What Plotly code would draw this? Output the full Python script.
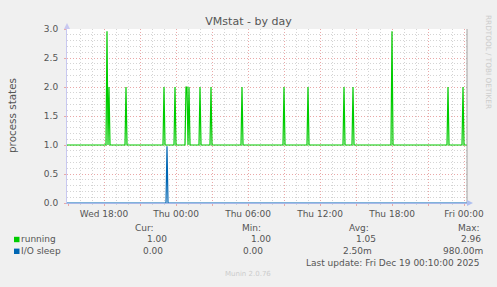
import plotly.graph_objects as go
from datetime import datetime, timedelta

# ---------------- data ----------------
x_start = "2025-12-17 14:55"
x_end = "2025-12-19 00:15"
step_minutes = 5

running_base = 1.0
running_spike_times = ["2025-12-17 18:15", "2025-12-17 18:25", "2025-12-17 19:50",
                       "2025-12-17 23:00", "2025-12-17 23:55", "2025-12-18 00:50",
                       "2025-12-18 00:55", "2025-12-18 01:05", "2025-12-18 02:00",
                       "2025-12-18 02:55", "2025-12-18 05:30", "2025-12-18 09:00",
                       "2025-12-18 11:00", "2025-12-18 14:00", "2025-12-18 14:45",
                       "2025-12-18 18:00", "2025-12-18 22:40", "2025-12-18 23:55"]
running_spike_values = [2.96, 2.0, 2.0, 2.0, 2.0, 2.0, 2.0, 2.0, 2.0, 2.0, 2.0, 2.0,
                        2.0, 2.0, 2.0, 2.96, 2.0, 2.0]

iosleep_base = 0.0
iosleep_spike_times = ["2025-12-17 23:15"]
iosleep_spike_values = [0.98]

tick_times = ["2025-12-17 15:00", "2025-12-17 18:00", "2025-12-17 21:00",
              "2025-12-18 00:00", "2025-12-18 03:00", "2025-12-18 06:00",
              "2025-12-18 09:00", "2025-12-18 12:00", "2025-12-18 15:00",
              "2025-12-18 18:00", "2025-12-18 21:00", "2025-12-19 00:00"]
tick_labels = ["", "Wed 18:00", "", "Thu 00:00", "", "Thu 06:00", "", "Thu 12:00",
               "", "Thu 18:00", "", "Fri 00:00"]

legend_names = ["running", "I/O sleep"]
legend_colors = ["#00CC00", "#0066B3"]
col_headers = ["Cur:", "Min:", "Avg:", "Max:"]
running_stats = ["1.00", "1.00", "1.05", "2.96"]
iosleep_stats = ["0.00", "0.00", "2.50m", "980.00m"]
last_update = "Last update: Fri Dec 19 00:10:00 2025"


def fmt(t):
    return t.strftime("%Y-%m-%d %H:%M")


def build_series(base, times, values):
    pts = {}
    parsed = [datetime.strptime(t, "%Y-%m-%d %H:%M") for t in times]
    for t, v in zip(parsed, values):
        pts[t] = v
    st = timedelta(minutes=step_minutes)
    for t in parsed:
        for n in (t - st, t + st):
            if n not in pts:
                pts[n] = base
    t0 = datetime.strptime(x_start, "%Y-%m-%d %H:%M")
    t1 = datetime.strptime(x_end, "%Y-%m-%d %H:%M")
    pts.setdefault(t0, base)
    pts.setdefault(t1, base)
    ks = sorted(pts)
    return [fmt(k) for k in ks], [pts[k] for k in ks]


rx, ry = build_series(running_base, running_spike_times, running_spike_values)
ix, iy = build_series(iosleep_base, iosleep_spike_times, iosleep_spike_values)

# ---------------- layout geometry ----------------
W, H = 497, 287
L, R, T, B = 67, 467, 29, 203
FONT = "DejaVu Sans"
TXT = "#555555"
MAJOR = "#EAA8A8"
MINOR = "#D4D4D4"
DOTS = "1px,2px"


def px(x):
    return (x - L) / (R - L)


def py(y):
    return (B - y) / (B - T)


fig = go.Figure()
fig.add_trace(go.Scatter(x=ix, y=iy, mode="lines", line=dict(color=legend_colors[1], width=1.2),
                         showlegend=False, hoverinfo="skip", cliponaxis=False))
fig.add_trace(go.Scatter(x=rx, y=ry, mode="lines", line=dict(color=legend_colors[0], width=1.2),
                         showlegend=False, hoverinfo="skip"))

fig.update_layout(
    width=W, height=H,
    margin=dict(l=L, r=W - R, t=T, b=H - B, pad=0),
    paper_bgcolor="#F0F0F0", plot_bgcolor="#FFFFFF",
    font=dict(family=FONT, size=9, color=TXT),
    title=dict(text="VMstat - by day", x=0.5, xanchor="center", xref="container",
               y=1 - 21 / H, yanchor="middle", yref="container",
               font=dict(family=FONT, size=11, color=TXT)),
    showlegend=False,
)

fig.update_xaxes(
    range=[x_start, x_end], type="date",
    tickmode="array", tickvals=tick_times, ticktext=tick_labels,
    showgrid=True, gridcolor=MAJOR, griddash=DOTS, gridwidth=1,
    ticks="outside", ticklen=2, tickcolor=MAJOR,
    showline=True, linecolor="#A8B8E8", linewidth=1,
    zeroline=False,
    minor=dict(dtick=3600000, tick0="2025-12-17 15:00", showgrid=True, gridcolor=MINOR,
               griddash=DOTS, ticks="outside", ticklen=1, tickcolor=MINOR),
    tickfont=dict(family=FONT, size=9, color=TXT),
)
fig.update_yaxes(
    range=[0, 3], tickmode="linear", tick0=0, dtick=0.5, tickformat=".1f",
    showgrid=True, gridcolor=MAJOR, griddash=DOTS, gridwidth=1,
    ticks="outside", ticklen=2, tickcolor=MAJOR,
    showline=True, linecolor="#C8C8F0", linewidth=1,
    zeroline=False,
    minor=dict(dtick=0.1, showgrid=True, gridcolor=MINOR, griddash=DOTS),
    tickfont=dict(family=FONT, size=9, color=TXT),
    ticklabelstandoff=4,
)

shapes = [
    dict(type="line", xref="paper", yref="paper", x0=1, x1=1, y0=0, y1=1,
         line=dict(color="#A0A0A0", width=1)),
    dict(type="path", xref="paper", yref="paper",
         path=f"M {px(467)} {py(200)} L {px(473)} {py(203)} L {px(467)} {py(206)} Z",
         fillcolor="#B0C0F0", line=dict(width=0)),
    dict(type="path", xref="paper", yref="paper",
         path=f"M {px(64)} {py(29)} L {px(67)} {py(23)} L {px(70)} {py(29)} Z",
         fillcolor="#C8C8F0", line=dict(width=0)),
]

ann = []
ann.append(dict(text="process states", x=px(12), y=py(115), xref="paper", yref="paper",
                textangle=-90, showarrow=False, xanchor="center", yanchor="middle",
                font=dict(family=FONT, size=10.4, color=TXT)))
ann.append(dict(text="RRDTOOL / TOBI OETIKER", x=px(488), y=py(13), xref="paper", yref="paper",
                textangle=90, showarrow=False, xanchor="center", yanchor="top",
                font=dict(family=FONT, size=7.3, color="#CCCCCC")))

# legend rows
row_y = [239.5, 251.3]
for name, col, yy in zip(legend_names, legend_colors, row_y):
    shapes.append(dict(type="rect", xref="paper", yref="paper",
                       x0=px(14), x1=px(19.5), y0=py(yy + 2.7), y1=py(yy - 2.7),
                       fillcolor=col, line=dict(width=0)))
    ann.append(dict(text=name, x=px(19), y=py(yy), xref="paper", yref="paper", showarrow=False,
                    xanchor="left", yanchor="middle", font=dict(family=FONT, size=9, color=TXT)))

header_x = [133.3, 240, 346.7, 455.7]
for h, hx in zip(col_headers, header_x):
    ann.append(dict(text=h, x=px(hx), y=py(228), xref="paper", yref="paper", showarrow=False,
                    xanchor="left", yanchor="middle", font=dict(family=FONT, size=9, color=TXT)))

run_x = [145, 249.3, 354.3, 459]
io_x = [141, 241, 340.7, 441]
for v, vx in zip(running_stats, run_x):
    ann.append(dict(text=v, x=px(vx), y=py(row_y[0]), xref="paper", yref="paper", showarrow=False,
                    xanchor="left", yanchor="middle", font=dict(family=FONT, size=9, color=TXT)))
for v, vx in zip(iosleep_stats, io_x):
    ann.append(dict(text=v, x=px(vx), y=py(row_y[1]), xref="paper", yref="paper", showarrow=False,
                    xanchor="left", yanchor="middle", font=dict(family=FONT, size=9, color=TXT)))

ann.append(dict(text=last_update, x=px(482.3), y=py(262.7), xref="paper", yref="paper",
                showarrow=False, xanchor="right", yanchor="middle",
                font=dict(family=FONT, size=9, color=TXT)))
ann.append(dict(text="Munin 2.0.76", x=px(248), y=py(274), xref="paper", yref="paper",
                showarrow=False, xanchor="center", yanchor="middle",
                font=dict(family=FONT, size=7, color="#CCCCCC")))
fig.update_layout(annotations=ann, shapes=shapes)

fig.write_html("out.html")
